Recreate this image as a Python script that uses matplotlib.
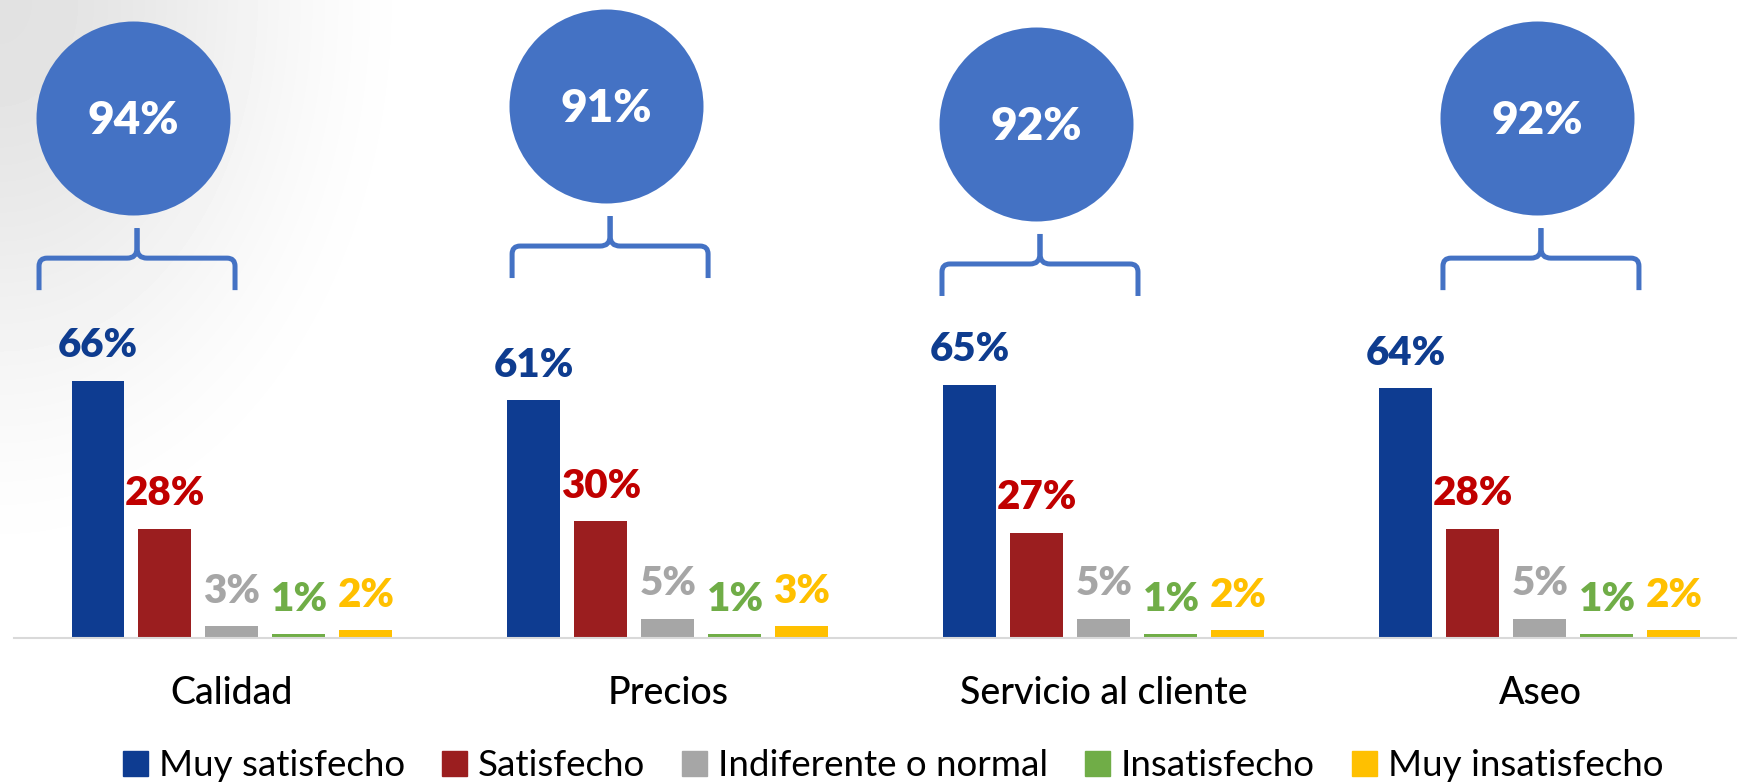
import numpy as np
import matplotlib.pyplot as plt
from matplotlib.path import Path
from matplotlib.patches import PathPatch, Patch

# datos
categorias = ["Calidad", "Precios", "Servicio al cliente", "Aseo"]
niveles = ["Muy satisfecho", "Satisfecho", "Indiferente o normal", "Insatisfecho", "Muy insatisfecho"]
muy_satisfecho = [66, 61, 65, 64]
satisfecho = [28, 30, 27, 28]
indiferente = [3, 5, 5, 5]
insatisfecho = [1, 1, 1, 1]
muy_insatisfecho = [2, 3, 2, 2]
total_satisfechos = [94, 91, 92, 92]

series = [muy_satisfecho, satisfecho, indiferente, insatisfecho, muy_insatisfecho]
colores_barra = ["#0E3C91", "#9B1E1F", "#A6A6A6", "#70AD47", "#FFC000"]
colores_texto = ["#0E3C8F", "#C00000", "#A6A6A6", "#70AD47", "#FFC000"]
azul_circulo = "#4472C4"

# posicion de los circulos (desplazamiento respecto al grupo, y altura en %)
circulo_dx = [-0.227, -0.142, -0.156, -0.007]
circulo_y = [133.3, 136.4, 131.8, 133.3]

plt.rcParams["font.family"] = ["Lato", "DejaVu Sans"]

W, H = 1756, 782
fig = plt.figure(figsize=(W / 100, H / 100), dpi=100)

# fondo con degradado gris arriba a la izquierda
bg = fig.add_axes([0, 0, 1, 1], zorder=-1)
yy, xx = np.mgrid[0:H, 0:W]
d = np.sqrt((xx / 440.0) ** 2 + (yy / 600.0) ** 2)
t = np.clip(d, 0, 1)
grad = 0.885 + 0.115 * (t * t * (3 - 2 * t))
bg.imshow(grad, cmap="gray", vmin=0, vmax=1, extent=[0, 1, 0, 1], aspect="auto")
bg.axis("off")

# ejes principales: 436 px por grupo, 3.9 px por punto porcentual
px_x, px_y = 436.0, 3.9
base_px = 144
ax = fig.add_axes([14 / W, base_px / H, 1722 / W, (H - base_px) / H])
ax.patch.set_alpha(0)
ax.set_xlim(-218 / px_x, (1736 - 232) / px_x)
ax.set_ylim(0, (H - base_px) / px_y)

x = np.arange(len(categorias))
ancho = 53 / px_x
paso = 67 / px_x
for j, (vals, cb, ct) in enumerate(zip(series, colores_barra, colores_texto)):
    pos = x + (j - 2) * paso
    ax.bar(pos, vals, width=ancho, color=cb, label=niveles[j])
    for xi, v in zip(pos, vals):
        ax.text(xi, v + 23.5 / px_y, f"{v}%", ha="center", va="baseline",
                color=ct, fontsize=29, fontweight="heavy")

for s in ["top", "right", "left"]:
    ax.spines[s].set_visible(False)
ax.spines["bottom"].set_color("#D9D9D9")
ax.spines["bottom"].set_linewidth(1.5)
ax.set_xticks([])
ax.set_yticks([])

for i, cat in enumerate(categorias):
    ax.text(i, -66.5 / px_y, cat, ha="center", va="baseline", fontsize=27,
            color="black", fontweight="medium", clip_on=False)

# circulos con el total y llaves
cx = x + np.array(circulo_dx)
ax.scatter(cx, circulo_y, s=(194 * 0.72) ** 2, color=azul_circulo,
           linewidths=0, clip_on=False, zorder=3)
codes = [Path.MOVETO, Path.LINETO, Path.CURVE3, Path.CURVE3,
         Path.LINETO, Path.CURVE3, Path.CURVE3, Path.LINETO]
for i in range(len(categorias)):
    ax.text(cx[i], circulo_y[i] - 16 / px_y, f"{total_satisfechos[i]}%",
            ha="center", va="baseline", color="white", fontsize=33,
            fontweight="heavy", zorder=4)

    # llave: coordenadas en px relativas a la punta (y hacia abajo)
    bx = cx[i] + 4 / px_x
    by = circulo_y[i] - 110 / px_y
    izq = [(-98, 62), (-98, 38), (-98, 30), (-90, 30),
           (-10, 30), (0, 30), (0, 20), (0, 0)]
    der = [(-px, py) for px, py in izq]
    for lado in (izq, der):
        verts = [(bx + px / px_x, by - py / px_y) for px, py in lado]
        ax.add_patch(PathPatch(Path(verts, codes), fill=False, edgecolor=azul_circulo,
                               linewidth=3.6, capstyle="butt", joinstyle="round",
                               clip_on=False))

handles = [Patch(color=c, label=n) for c, n in zip(colores_barra, niveles)]
fig.legend(handles=handles, loc="center", bbox_to_anchor=(0.5086, 0.0205),
           ncol=5, frameon=False, fontsize=26.5, handlelength=0.68,
           handleheight=0.68, handletextpad=0.3, columnspacing=1.0,
           borderpad=0)

fig.savefig("out.png", dpi=100)
